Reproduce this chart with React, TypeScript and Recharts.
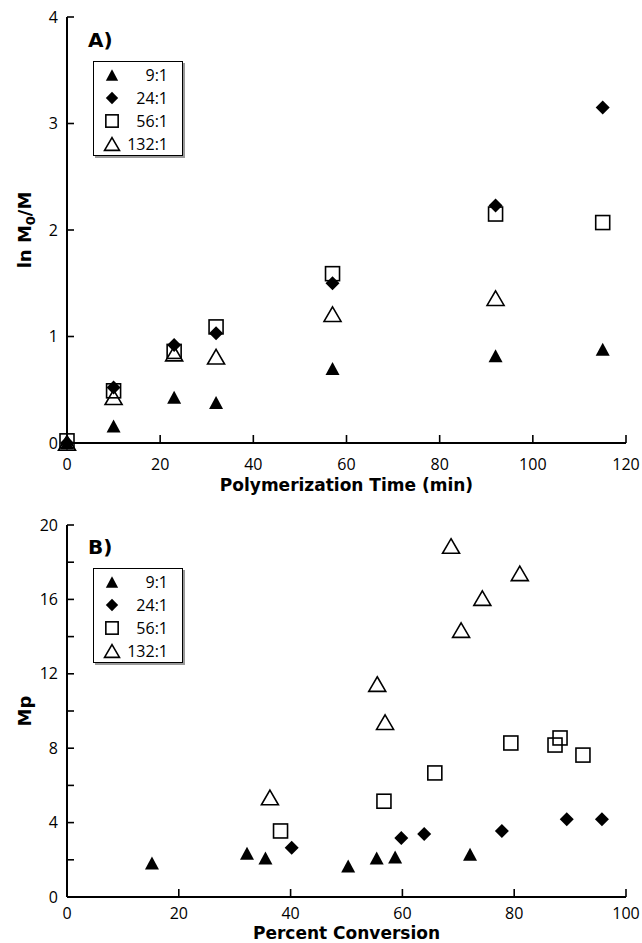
import React from "react";
import { ScatterChart, Scatter, XAxis, YAxis, Legend } from "recharts";

// Panel A: ln(M0/M) vs polymerization time
const TIME_MIN = [0, 10, 23, 32, 57, 92, 115];
const TIME_MIN_132 = [0, 10, 23, 32, 57, 92];
const LN_9 = [0, 0.16, 0.43, 0.38, 0.7, 0.82, 0.88];
const LN_24 = [0, 0.52, 0.92, 1.03, 1.5, 2.23, 3.15];
const LN_56 = [0.02, 0.49, 0.86, 1.09, 1.59, 2.15, 2.07];
const LN_132 = [0, 0.43, 0.84, 0.81, 1.21, 1.36];

// Panel B: Mp vs percent conversion
const CONV_9 = [15.2, 32.2, 35.5, 50.3, 55.4, 58.7, 72.1];
const MP_9 = [1.83, 2.35, 2.1, 1.67, 2.1, 2.15, 2.3];
const CONV_24 = [40.2, 59.8, 63.9, 77.8, 89.4, 95.7];
const MP_24 = [2.65, 3.17, 3.39, 3.55, 4.18, 4.18];
const CONV_56 = [38.2, 56.7, 65.8, 79.4, 87.3, 88.2, 92.3];
const MP_56 = [3.55, 5.15, 6.67, 8.28, 8.17, 8.55, 7.63];
const CONV_132 = [36.3, 55.5, 56.9, 68.7, 70.5, 74.3, 81.0];
const MP_132 = [5.35, 11.45, 9.4, 18.87, 14.35, 16.07, 17.4];

const RATIOS = ["9:1", "24:1", "56:1", "132:1"];
const KINDS = ["triFilled", "diamond", "square", "triOpen"];

const A_X_TICKS = [0, 20, 40, 60, 80, 100, 120];
const A_Y_TICKS = [0, 1, 2, 3, 4];
const B_X_TICKS = [0, 20, 40, 60, 80, 100];
const B_Y_TICKS = [0, 2, 4, 6, 8, 10, 12, 14, 16, 18, 20];

const TICK_FONT = "'Open Sans', sans-serif";
const TITLE_FONT = "'DejaVu Sans', sans-serif";

const zip = (xs: number[], ys: number[]) => ys.map((y, i) => ({ x: xs[i], y }));

function Marker({ kind, cx, cy, big = true }: { kind: string; cx: number; cy: number; big?: boolean }) {
  const k = big ? 1 : 0.88;
  if (kind === "triFilled") {
    const w = 7 * k, h = 6.5 * k;
    return <path d={`M${cx},${cy - h}L${cx + w},${cy + h}L${cx - w},${cy + h}Z`} fill="#000" />;
  }
  if (kind === "diamond") {
    const r = 7 * k;
    return <path d={`M${cx},${cy - r}L${cx + r},${cy}L${cx},${cy + r}L${cx - r},${cy}Z`} fill="#000" />;
  }
  if (kind === "square") {
    const s = 7 * k;
    return <rect x={cx - s} y={cy - s} width={2 * s} height={2 * s} fill="none" stroke="#000" strokeWidth={1.6} />;
  }
  const w = 8.5 * k, h = 7.3 * k;
  return (
    <path d={`M${cx},${cy - h}L${cx + w},${cy + h}L${cx - w},${cy + h}Z`} fill="none" stroke="#000" strokeWidth={1.6} />
  );
}

function LegendBox({ letter }: { letter: string }) {
  return (
    <div style={{ fontFamily: TICK_FONT, color: "#000" }}>
      <div style={{ fontFamily: TITLE_FONT, fontWeight: "bold", fontSize: 20, lineHeight: "24px" }}>{letter}</div>
      <div
        style={{
          marginTop: 9,
          marginLeft: 5,
          width: 90,
          height: 95,
          boxSizing: "border-box",
          border: "1px solid #000",
          boxShadow: "2px 2px 0 #999",
          background: "#fff",
          paddingTop: 1,
        }}
      >
        {RATIOS.map((r, i) => (
          <div key={r} style={{ display: "flex", alignItems: "center", height: 23 }}>
            <svg width={18} height={18} style={{ marginLeft: 9 }}>
              <Marker kind={KINDS[i]} cx={9} cy={9} big={false} />
            </svg>
            <span style={{ flex: 1, textAlign: "right", paddingRight: 14, fontSize: 16 }}>{r}</span>
          </div>
        ))}
      </div>
    </div>
  );
}

type PanelProps = {
  letter: string;
  width: number;
  height: number;
  margin: { top: number; right: number; bottom: number; left: number };
  xAxisHeight: number;
  xMax: number;
  yMax: number;
  xTicks: number[];
  yTicks: number[];
  yLabelStep: number;
  tickGap: number;
  titleGap: number;
  xTitle: string;
  yTitle: React.ReactNode;
  legendTop: number;
  series: { x: number; y: number }[][];
};

const frameLine = { stroke: "#000", strokeWidth: 2 };
const tickLine = { stroke: "#000", strokeWidth: 1.6 };

function Panel(p: PanelProps) {
  const XTick = (props: any) => {
    const { x, y, payload } = props;
    return (
      <text x={x} y={y} dy="0.35em" textAnchor="middle" fontFamily={TICK_FONT} fontSize={16} fill="#000">
        {payload.value}
      </text>
    );
  };
  const YTick = (props: any) => {
    const { x, y, payload } = props;
    const v = payload.value;
    if (v % p.yLabelStep !== 0) return <g />;
    return (
      <text x={x} y={y} dy="0.35em" textAnchor="end" fontFamily={TICK_FONT} fontSize={16} fill="#000">
        {v}
      </text>
    );
  };
  return (
    <ScatterChart width={p.width} height={p.height} margin={p.margin}>
      <XAxis
        xAxisId="b"
        type="number"
        dataKey="x"
        domain={[0, p.xMax]}
        ticks={p.xTicks}
        interval={0}
        height={p.xAxisHeight}
        axisLine={frameLine}
        tickLine={tickLine}
        tickSize={-8}
        tickMargin={8 + p.tickGap}
        tick={XTick}
        label={{
          content: (lp: any) => {
            const vb = lp.viewBox;
            return (
              <text
                x={vb.x + vb.width / 2}
                y={vb.y + p.titleGap}
                dy="0.35em"
                textAnchor="middle"
                fontFamily={TITLE_FONT}
                fontWeight="bold"
                fontSize={17}
                fill="#000"
              >
                {p.xTitle}
              </text>
            );
          },
        }}
      />
      <XAxis
        xAxisId="t"
        orientation="top"
        type="number"
        domain={[0, p.xMax]}
        height={0}
        axisLine={frameLine}
        tickLine={false}
        tick={false}
      />
      <YAxis
        yAxisId="l"
        type="number"
        dataKey="y"
        domain={[0, p.yMax]}
        ticks={p.yTicks}
        interval={0}
        width={67}
        axisLine={frameLine}
        tickLine={tickLine}
        tickSize={-7}
        tickMargin={7 + 9}
        tick={YTick}
        label={{
          content: (lp: any) => {
            const vb = lp.viewBox;
            const cx = vb.x + 25;
            const cy = vb.y + vb.height / 2;
            return (
              <text
                x={cx}
                y={cy}
                dy="0.35em"
                transform={`rotate(-90, ${cx}, ${cy})`}
                textAnchor="middle"
                fontFamily={TITLE_FONT}
                fontWeight="bold"
                fontSize={18}
                fill="#000"
              >
                {p.yTitle}
              </text>
            );
          },
        }}
      />
      <YAxis
        yAxisId="r"
        orientation="right"
        type="number"
        domain={[0, p.yMax]}
        width={0}
        axisLine={frameLine}
        tickLine={false}
        tick={false}
      />
      <Legend
        layout="horizontal"
        verticalAlign="middle"
        align="center"
        wrapperStyle={{ left: 88, top: p.legendTop, width: 120, height: "auto" }}
        content={() => <LegendBox letter={p.letter} />}
      />
      {p.series.map((d, i) => (
        <Scatter
          key={RATIOS[i]}
          name={RATIOS[i]}
          data={d}
          xAxisId="b"
          yAxisId="l"
          isAnimationActive={false}
          shape={(sp: any) => <Marker kind={KINDS[i]} cx={sp.cx} cy={sp.cy} />}
        />
      ))}
    </ScatterChart>
  );
}

export default function App() {
  return (
    <div style={{ position: "absolute", left: 0, top: 0, width: 642, height: 943, background: "#fff" }}>
      <div style={{ position: "absolute", left: 0, top: 0 }}>
        <Panel
          letter="A)"
          width={642}
          height={500}
          margin={{ top: 17, right: 16, bottom: 7, left: 0 }}
          xAxisHeight={50}
          xMax={120}
          yMax={4}
          xTicks={A_X_TICKS}
          yTicks={A_Y_TICKS}
          yLabelStep={1}
          tickGap={21}
          titleGap={42}
          xTitle="Polymerization Time (min)"
          yTitle={
            <>
              <tspan>ln M</tspan>
              <tspan dy={4} fontSize={13}>0</tspan>
              <tspan dy={-4}>/M</tspan>
            </>
          }
          legendTop={28}
          series={[zip(TIME_MIN, LN_9), zip(TIME_MIN, LN_24), zip(TIME_MIN, LN_56), zip(TIME_MIN_132, LN_132)]}
        />
      </div>
      <div style={{ position: "absolute", left: 0, top: 500 }}>
        <Panel
          letter="B)"
          width={642}
          height={443}
          margin={{ top: 25, right: 16, bottom: 6, left: 0 }}
          xAxisHeight={40}
          xMax={100}
          yMax={20}
          xTicks={B_X_TICKS}
          yTicks={B_Y_TICKS}
          yLabelStep={4}
          tickGap={16}
          titleGap={36}
          xTitle="Percent Conversion"
          yTitle="Mp"
          legendTop={35}
          series={[zip(CONV_9, MP_9), zip(CONV_24, MP_24), zip(CONV_56, MP_56), zip(CONV_132, MP_132)]}
        />
      </div>
    </div>
  );
}
